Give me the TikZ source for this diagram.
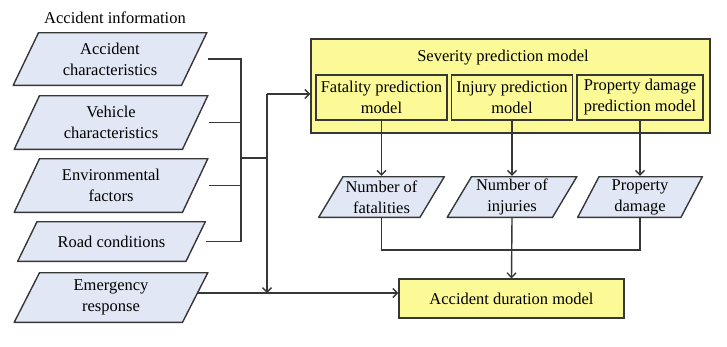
\documentclass[tikz,border=0pt]{standalone}
\usepackage{fontspec}
\setmainfont{Liberation Serif}
\usetikzlibrary{arrows.meta,backgrounds}
\definecolor{datafill}{RGB}{226,231,245}
\definecolor{modelfill}{RGB}{252,250,150}
\definecolor{linegray}{RGB}{55,55,55}
\tikzset{lean/.store in=\dataslant,lean=26pt}

\begin{document}
\begin{tikzpicture}[x=1pt,y=-1pt,every node/.style={font=\fontsize{16.5}{21}\selectfont,align=center,inner sep=1pt},
          data/.style={minimum width=195pt,
            path picture={\filldraw[draw=linegray,fill=datafill,line width=1.4pt]
              ([shift={(.7pt,.7pt)}]path picture bounding box.south west)
              -- ([shift={(\dataslant,-.7pt)}]path picture bounding box.north west)
              -- ([shift={(-.7pt,-.7pt)}]path picture bounding box.north east)
              -- ([shift={(-\dataslant,.7pt)}]path picture bounding box.south east) -- cycle;}},
          model/.style={rectangle,draw=linegray,fill=modelfill,line width=1.4pt},
          link/.style={linegray,line width=1.4pt},
          feed/.style={link,-{Straight Barb[length=4.5pt,width=9pt]}}]
        \useasboundingbox (0,0) rectangle (727,346);
        % inputs
        \node (info) at (115,18) {Accident information};
        \node[data,minimum height=54pt] (acc) at (110,59) {Accident\\characteristics};
        \node[data,minimum height=55pt] (veh) at (111,122.5) {Vehicle\\characteristics};
        \node[data,minimum height=55pt] (env) at (111,185.5) {Environmental\\factors};
        \node[data,lean=20pt,minimum width=189pt,minimum height=41pt] (road) at (111.5,241.5) {Road conditions};
        \node[data,minimum height=51pt] (emer) at (111,297.5) {Emergency\\response};
        % severity models
        \node[model,minimum width=399pt,minimum height=94pt] (sev) at (510.5,86) {};
        \node (sevname) at (503,58) {Severity prediction model};
        \node[model,minimum width=131pt,minimum height=45pt] (fat) at (381.5,97.5) {Fatality prediction\\model};
        \node[model,minimum width=121pt,minimum height=45pt] (inj) at (512,97.5) {Injury prediction\\model};
        \node[model,minimum width=126pt,minimum height=45pt] (prop) at (640,97.5) {Property damage\\prediction model};
        % outcomes
        \node[data,lean=25pt,minimum width=127pt,minimum height=42pt] (nfat) at (381.5,197) {Number of\\fatalities};
        \node[data,lean=25pt,minimum width=131pt,minimum height=42pt] (ninj) at (512,197) {Number of\\injuries};
        \node[data,lean=22pt,minimum width=126pt,minimum height=42pt] (nprop) at (640,197) {Property\\damage};
        \node[model,minimum width=225pt,minimum height=39pt] (dur) at (511.5,298.5) {Accident duration model};
        % wiring, kept behind the boxes
        \coordinate (bus) at (241,158);
        \coordinate (split) at (267,94);
        \coordinate (merge) at (512,250);
        \coordinate (tap) at (267,293);
        \begin{pgfonlayer}{background}
          \draw[link] (acc) -| (road -| bus) -- (road);
          \foreach \a in {veh,env}
            \draw[link] (\a) -- (\a -| bus);
          \draw[link] (bus) -- (bus -| split);
          \draw[feed] (split) -- (split -| sev.west);
          \draw[feed] (split) -- (tap);
          \draw[feed] (emer.center |- tap) -- (tap -| dur.west);
        \end{pgfonlayer}
        \foreach \a/\b in {fat/nfat,inj/ninj,prop/nprop}
          \draw[feed] (\a) -- (\b);
        \draw[link] (nfat.south) |- (merge) -| (nprop.south);
        \draw[feed] (ninj.south) -- (dur.north);
      \end{tikzpicture}
\end{document}
